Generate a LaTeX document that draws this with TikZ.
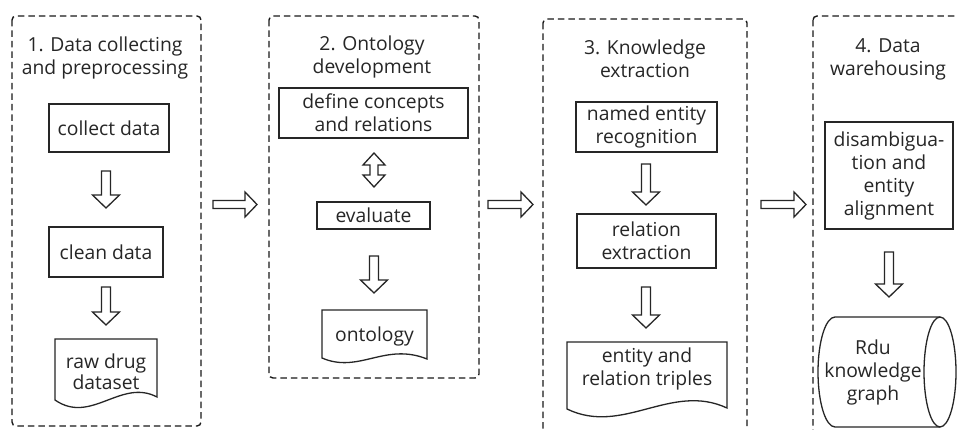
\documentclass[tikz,border=0pt]{standalone}
\usepackage{fontspec}
\setmainfont{Open Sans}
\usetikzlibrary{calc}
\tikzset{
  panel/.style={draw=black!90, line width=1.4pt, dash pattern=on 6.5pt off 4pt, rounded corners=4pt},
  boxline/.style={draw=black!85, line width=1.3pt},
  procbox/.style={boxline, align=center, inner sep=0pt, text=black!85},
  txt/.style={align=center, inner sep=0pt, text=black!85},
  vblock/.style={boxline, line join=miter, to path={let \p1=(\tikztostart), \p2=(\tikztotarget) in
    (\x1-4.5pt,\y1) -- (\x1+4.5pt,\y1) -- (\x1+4.5pt,\y2+13pt) -- (\x1+13.5pt,\y2+13pt) -- (\x1,\y2)
    -- (\x1-13.5pt,\y2+13pt) -- (\x1-4.5pt,\y2+13pt) -- cycle}},
  dblock/.style={boxline, line join=miter, to path={let \p1=(\tikztostart), \p2=(\tikztotarget) in
    (\x1,\y1) -- (\x1+11pt,\y1-12pt) -- (\x1+4pt,\y1-12pt) -- (\x1+4pt,\y2+12pt) -- (\x1+11pt,\y2+12pt)
    -- (\x1,\y2) -- (\x1-11pt,\y2+12pt) -- (\x1-4pt,\y2+12pt) -- (\x1-4pt,\y1-12pt) -- (\x1-11pt,\y1-12pt) -- cycle}},
  hblock/.style={boxline, line join=miter, to path={let \p1=(\tikztostart), \p2=(\tikztotarget) in
    (\x1,\y1+4pt) -- (\x2-12pt,\y1+4pt) -- (\x2-12pt,\y1+12.5pt) -- (\x2,\y1) -- (\x2-12pt,\y1-12.5pt)
    -- (\x2-12pt,\y1-4pt) -- (\x1,\y1-4pt) -- cycle}},
}
\begin{document}
\begin{tikzpicture}[x=1pt, y=-1pt, font=\fontsize{19.3}{23}\selectfont]
\useasboundingbox (0,0) rectangle (957,430);
\clip (0,0) rectangle (957,430);
\fill[white] (0,0) rectangle (957,430);

% panels
\draw[panel] (12,16) rectangle (201,426);
\draw[panel] (269,16) rectangle (479,378);
\draw[panel] (543,19) rectangle (747,450);
\draw[panel] (813,16) rectangle (990,450);

% titles
\node[txt] (t1) at (105,58) {1. Data collecting\\and preprocessing};
\node[txt] (t2) at (372,57) {2. Ontology\\development};
\node[txt] (t3) at (645,59) {3. Knowledge\\extraction};
\node[txt] (t4) at (888,59) {4. Data\\warehousing};

% panel 1
\node[procbox, minimum width=120pt, minimum height=48pt] (collect) at (109,128) {collect data};
\node[procbox, minimum width=114pt, minimum height=50pt] (clean) at (106,252) {clean data};
\draw[boxline] (55,400) -- (55,339) -- (157,339) -- (157,397)
  .. controls (121,378) and (91,425) .. (55,400) -- cycle;
\node[txt, font=\fontsize{19.3}{20.5}\selectfont] (raw) at (106,372) {raw drug\\dataset};
\draw[vblock] (106,171) to (106,208);
\draw[vblock] (106,287) to (106,325);

% panel 2
\node[procbox, minimum width=189pt, minimum height=50pt] (define) at (373.5,113) {define concepts\\and relations};
\node[procbox, minimum width=113pt, minimum height=27pt] (evaluate) at (373.5,215.5) {evaluate};
\draw[boxline] (322,358) -- (322,310) -- (427,310) -- (427,359)
  .. controls (385,342) and (359,374) .. (322,358) -- cycle;
\node[txt] (onto) at (374.5,336) {ontology};
\draw[dblock] (374,153) to (374,187);
\draw[vblock] (374,256) to (374,293);

% panel 3
\node[procbox, minimum width=141pt, minimum height=50pt] (ner) at (646.5,127) {named entity\\recognition};
\node[procbox, minimum width=139pt, minimum height=54pt] (rel) at (646.5,241) {relation\\extraction};
\draw[boxline] (567,409) -- (567,342) -- (727,342) -- (727,408)
  .. controls (671,382) and (623,436) .. (567,409) -- cycle;
\node[txt] (trip) at (647,369) {entity and\\relation triples};
\draw[vblock] (646,164) to (646,205);
\draw[vblock] (646,287) to (646,328);

% panel 4
\node[procbox, minimum width=128pt, minimum height=107pt] (dis) at (889,175.5) {disambigua-\\tion and\\entity\\alignment};
\draw[boxline] (940,317) -- (835,317) arc[start angle=90, end angle=270, x radius=17pt, y radius=55pt] -- (940,427);
\draw[boxline] (940,372) ellipse [x radius=16pt, y radius=55pt];
\node[txt] (kg) at (873,372) {Rdu\\knowledge\\graph};
\draw[vblock] (889,252) to (889,297);

% arrows between panels
\draw[hblock] (213,204.5) to (257,204.5);
\draw[hblock] (488,204.5) to (533,204.5);
\draw[hblock] (761,204.5) to (806,204.5);
\end{tikzpicture}
\end{document}
